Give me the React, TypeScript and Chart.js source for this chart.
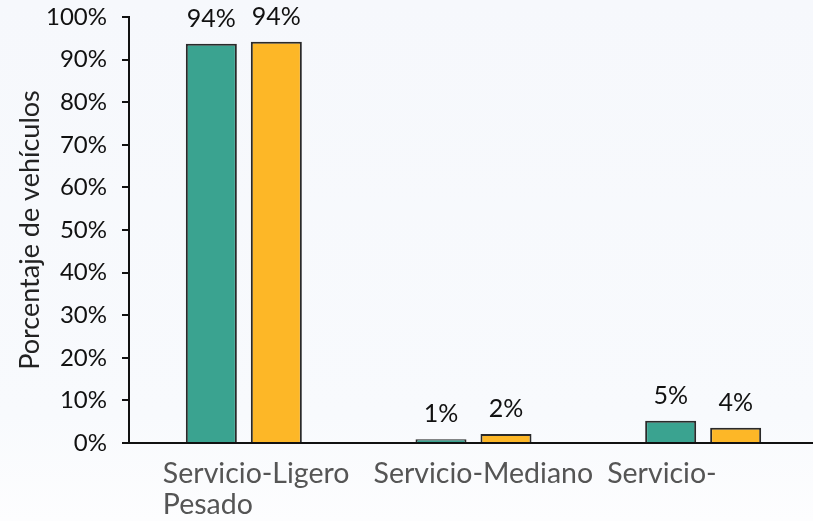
import React, { useEffect, useRef } from "react";
import { Chart, registerables } from "chart.js";

Chart.register(...registerables);

const categories = ["Servicio-Ligero", "Servicio-Mediano", "Servicio-Pesado"];
const tickLabelLines = [["Servicio-Ligero", "Pesado"], ["Servicio-Mediano"], ["Servicio-"]];
const seriesA = [93.7, 0.9, 5.2];
const seriesB = [94.2, 2.1, 3.6];
const yTicks = [0, 10, 20, 30, 40, 50, 60, 70, 80, 90, 100];
const yTitle = "Porcentaje de vehículos";

const labelOffsets = [-81, -100, -96];
const FONT = "Lato";

const valueLabels = {
  id: "valueLabels",
  afterDatasetsDraw(chart: any) {
    const ctx = chart.ctx;
    ctx.save();
    ctx.font = `25px ${FONT}`;
    ctx.fillStyle = "#111";
    ctx.textAlign = "center";
    ctx.textBaseline = "alphabetic";
    chart.data.datasets.forEach((ds: any, di: number) => {
      const meta = chart.getDatasetMeta(di);
      meta.data.forEach((el: any, i: number) => {
        ctx.fillText(Math.round(ds.data[i]) + "%", el.x, el.y - 17);
      });
    });
    ctx.restore();
  },
};

const xLabels = {
  id: "xLabels",
  afterDraw(chart: any) {
    const ctx = chart.ctx;
    const xs = chart.scales.x;
    const bottom = chart.chartArea.bottom;
    ctx.save();
    ctx.font = `28.5px ${FONT}`;
    ctx.fillStyle = "#555";
    ctx.textAlign = "left";
    ctx.textBaseline = "alphabetic";
    tickLabelLines.forEach((lines, i) => {
      const x = xs.getPixelForValue(i) + labelOffsets[i];
      lines.forEach((line, li) => {
        ctx.fillText(line, x, bottom + 40 + li * 31);
      });
    });
    ctx.restore();
  },
};

export default function App() {
  const ref = useRef<HTMLCanvasElement>(null);
  useEffect(() => {
    if (!ref.current) return;
    const chart = new Chart(ref.current, {
      type: "bar",
      data: {
        labels: categories,
        datasets: [
          {
            label: "A",
            data: seriesA,
            backgroundColor: "#3AA390",
            borderColor: "#2a2a2a",
            borderWidth: 2,
            barPercentage: 0.785,
            categoryPercentage: 0.566,
          },
          {
            label: "B",
            data: seriesB,
            backgroundColor: "#FDB727",
            borderColor: "#2a2a2a",
            borderWidth: 2,
            barPercentage: 0.785,
            categoryPercentage: 0.566,
          },
        ],
      },
      options: {
        animation: false,
        responsive: false,
        layout: { padding: { top: 17, right: 0, left: 0, bottom: 0 } },
        plugins: { legend: { display: false }, tooltip: { enabled: false } },
        scales: {
          x: {
            grid: { display: false },
            border: { display: true, color: "#111", width: 2 },
            ticks: { display: false },
            afterFit: (s: any) => {
              s.height = 78;
              s.paddingLeft = 0;
              s.paddingRight = 0;
            },
          },
          y: {
            min: 0,
            max: 100,
            afterBuildTicks: (s: any) => {
              s.ticks = yTicks.map((v) => ({ value: v }));
            },
            ticks: {
              callback: (v: any) => v + "%",
              font: { family: FONT, size: 24 },
              color: "#111",
              padding: 15,
            },
            grid: {
              drawOnChartArea: false,
              drawTicks: true,
              tickLength: 7,
              color: "#111",
              lineWidth: 2,
            },
            border: { display: true, color: "#111", width: 2 },
            title: {
              display: true,
              text: yTitle,
              font: { family: FONT, size: 27 },
              color: "#222",
              padding: { top: 14, bottom: 0 },
            },
            afterFit: (s: any) => {
              s.width = 129;
              s.paddingTop = 0;
              s.paddingBottom = 0;
            },
          },
        },
      },
      plugins: [valueLabels, xLabels],
    });
    return () => chart.destroy();
  }, []);
  return (
    <div
      style={{
        position: "absolute",
        left: 0,
        top: 0,
        width: 813,
        height: 521,
        overflow: "hidden",
        background: "linear-gradient(180deg, #f6f8fc 0%, #f8fafd 80%, #fdfdfe 100%)",
      }}
    >
      <canvas ref={ref} width={818} height={521} style={{ display: "block" }} />
    </div>
  );
}
